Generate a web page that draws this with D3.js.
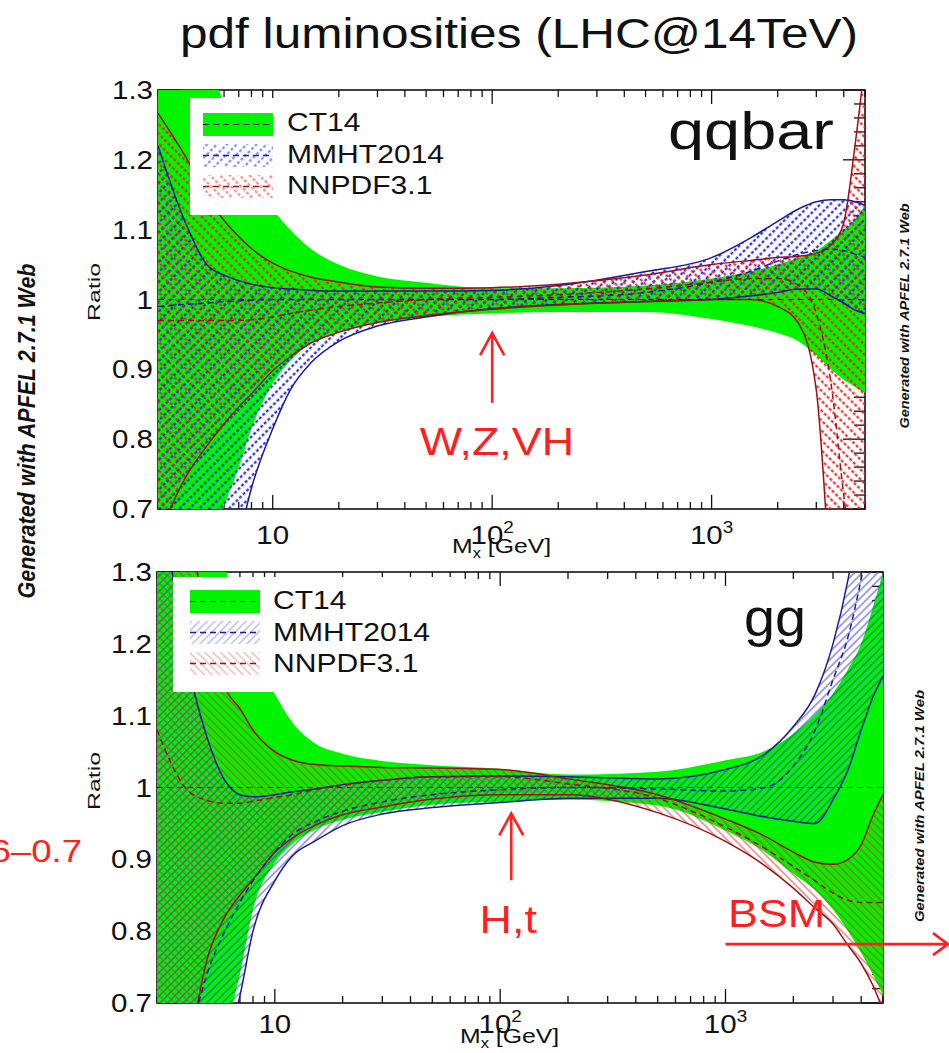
<!DOCTYPE html>
<html>
<head>
<meta charset="utf-8">
<script src="https://cdn.jsdelivr.net/npm/d3@7"></script>
<style>
  body { margin: 0; background: #fff; }
  svg { display: block; }
  text { font-family: "Liberation Sans", Arial, Helvetica, sans-serif; }
</style>
</head>
<body>
<div id="chart"></div>
<script>
// ---------------------------------- DATA ----------------------------------
// invariant mass grid M_X [GeV]
const mass = [3, 4, 5, 6, 7, 8, 10, 12, 15, 20, 30, 50, 100, 200, 500, 1000, 1500, 2000, 2500, 3000, 3500, 4000, 4500, 5000];

// qqbar luminosity ratios (to CT14 central)
const qq_ct14_c  = [1, 1, 1, 1, 1, 1, 1, 1, 1, 1, 1, 1, 1, 1, 1, 1, 1, 1, 1, 1, 1, 1, 1, 1];
const qq_ct14_up = [1.60, 1.45, 1.35, 1.28, 1.22, 1.18, 1.13, 1.10, 1.072, 1.05, 1.033, 1.024, 1.016, 1.016, 1.02, 1.03, 1.04, 1.05, 1.06, 1.07, 1.085, 1.10, 1.115, 1.135];
const qq_ct14_lo = [0.45, 0.57, 0.65, 0.705, 0.76, 0.815, 0.88, 0.912, 0.937, 0.954, 0.966, 0.975, 0.98, 0.982, 0.982, 0.972, 0.962, 0.952, 0.94, 0.92, 0.90, 0.885, 0.875, 0.866];
const qq_mmht_c  = [0.99, 0.993, 0.995, 0.997, 0.998, 0.999, 1.0, 1.0, 1.0, 1.0, 1.0, 1.0, 1.0, 1.003, 1.01, 1.025, 1.04, 1.055, 1.065, 1.07, 1.072, 1.07, 1.065, 1.06];
const qq_mmht_up = [1.22, 1.11, 1.05, 1.035, 1.027, 1.022, 1.017, 1.015, 1.013, 1.012, 1.012, 1.012, 1.013, 1.02, 1.04, 1.06, 1.088, 1.112, 1.13, 1.14, 1.143, 1.143, 1.14, 1.135];
const qq_mmht_lo = [0.20, 0.35, 0.46, 0.56, 0.655, 0.73, 0.815, 0.87, 0.91, 0.94, 0.962, 0.975, 0.987, 0.993, 0.997, 1.0, 1.005, 1.01, 1.015, 1.015, 1.005, 0.995, 0.985, 0.98];
const qq_nnpdf_c  = [0.97, 0.97, 0.97, 0.97, 0.97, 0.971, 0.975, 0.98, 0.985, 0.99, 0.995, 1.0, 1.003, 1.007, 1.015, 1.025, 1.03, 1.03, 1.02, 0.98, 0.88, 0.72, 0.60, 0.50];
const qq_nnpdf_up = [1.267, 1.205, 1.15, 1.113, 1.09, 1.073, 1.052, 1.041, 1.032, 1.025, 1.018, 1.016, 1.017, 1.022, 1.035, 1.05, 1.056, 1.06, 1.062, 1.066, 1.078, 1.11, 1.22, 1.34];
const qq_nnpdf_lo = [0.66, 0.745, 0.79, 0.822, 0.846, 0.865, 0.898, 0.918, 0.938, 0.953, 0.967, 0.977, 0.986, 0.992, 0.997, 1.0, 1.0, 0.99, 0.965, 0.87, 0.58, 0.30, 0.15, 0.05];

// gg luminosity ratios (to CT14 central)
const gg_ct14_c  = [1, 1, 1, 1, 1, 1, 1, 1, 1, 1, 1, 1, 1, 1, 1, 1, 1, 1, 1, 1, 1, 1, 1, 1];
const gg_ct14_up = [1.80, 1.60, 1.43, 1.31, 1.24, 1.19, 1.13, 1.09, 1.062, 1.047, 1.037, 1.031, 1.026, 1.018, 1.022, 1.038, 1.051, 1.075, 1.102, 1.131, 1.165, 1.20, 1.25, 1.30];
const gg_ct14_lo = [0.30, 0.45, 0.57, 0.66, 0.74, 0.83, 0.895, 0.922, 0.941, 0.955, 0.966, 0.976, 0.98, 0.983, 0.975, 0.94, 0.91, 0.88, 0.857, 0.83, 0.80, 0.77, 0.74, 0.71];
const gg_mmht_c  = [0.40, 0.62, 0.74, 0.80, 0.84, 0.87, 0.91, 0.935, 0.952, 0.967, 0.98, 0.99, 0.997, 1.0, 0.998, 0.995, 1.0, 1.03, 1.08, 1.15, 1.21, 1.29, 1.37, 1.45];
const gg_mmht_up = [1.45, 1.19, 1.07, 1.01, 0.99, 0.987, 0.99, 0.994, 0.998, 1.004, 1.01, 1.015, 1.016, 1.015, 1.012, 1.025, 1.047, 1.085, 1.13, 1.20, 1.29, 1.40, 1.50, 1.60];
const gg_mmht_lo = [0.20, 0.38, 0.52, 0.63, 0.71, 0.80, 0.87, 0.905, 0.925, 0.947, 0.963, 0.972, 0.979, 0.985, 0.985, 0.97, 0.959, 0.953, 0.95, 0.983, 1.025, 1.08, 1.125, 1.155];
const gg_nnpdf_c  = [1.08, 1.0, 0.982, 0.978, 0.978, 0.981, 0.986, 0.99, 0.997, 1.003, 1.01, 1.015, 1.015, 1.005, 0.985, 0.945, 0.915, 0.89, 0.87, 0.853, 0.843, 0.84, 0.84, 0.84];
const gg_nnpdf_up = [1.60, 1.38, 1.24, 1.14, 1.11, 1.08, 1.05, 1.038, 1.032, 1.03, 1.028, 1.027, 1.025, 1.012, 0.99, 0.956, 0.932, 0.91, 0.896, 0.893, 0.90, 0.92, 0.96, 0.99];
const gg_nnpdf_lo = [0.35, 0.60, 0.76, 0.82, 0.85, 0.872, 0.91, 0.93, 0.947, 0.962, 0.973, 0.984, 0.99, 0.99, 0.965, 0.925, 0.891, 0.86, 0.832, 0.81, 0.78, 0.755, 0.725, 0.69];

// axes
const xDomain = [3, 5000];
const yDomain = [0.7, 1.3];
const yTickValues = [0.7, 0.8, 0.9, 1, 1.1, 1.2, 1.3];
const yTickLabels = ["0.7", "0.8", "0.9", "1", "1.1", "1.2", "1.3"];
const xTickValues = [10, 100, 1000];
const xTickBase = ["10", "10", "10"];
const xTickExp = ["", "2", "3"];
const pdfNames = ["CT14", "MMHT2014", "NNPDF3.1"];

// ---------------------------------- SETUP ----------------------------------
const W = 949, H = 1053;
const SX = 1.18;   // the picture is stretched horizontally
const RED = "#ff1f1f";
const GREEN = "#00f400";

const svg = d3.select("#chart").append("svg")
    .attr("width", W).attr("height", H);
const defs = svg.append("defs");

function hatch(id, angle, size, color, width, dashed) {
    let h = dashed ? 5 : size;
    let p = defs.append("pattern")
        .attr("id", id)
        .attr("patternUnits", "userSpaceOnUse")
        .attr("width", size).attr("height", h)
        .attr("patternTransform", "rotate(" + angle + ")");
    p.append("line")
        .attr("x1", size / 2).attr("x2", size / 2)
        .attr("y1", 0).attr("y2", h)
        .attr("stroke", color)
        .attr("stroke-width", width)
        .attr("stroke-dasharray", dashed ? "3 2" : null);
}
hatch("mmht_qq", 45, 7, "#1414ff", 2, true);
hatch("nnpdf_qq", -45, 7, "#ff1414", 2, true);
hatch("mmht_gg", 45, 5.5, "#3434d0", 0.9, false);
hatch("nnpdf_gg", -45, 5.5, "#d03434", 0.9, false);

// stretched text helper
function label(g, x, y, str, size, anchor, color, weight) {
    return g.append("text")
        .attr("transform", "translate(" + x + "," + y + ") scale(" + SX + ",1)")
        .attr("font-size", size)
        .attr("text-anchor", anchor || "start")
        .attr("fill", color || "#111")
        .attr("font-weight", weight || null)
        .text(str);
}

// title
svg.append("text")
    .attr("x", 519).attr("y", 48)
    .attr("font-size", 43)
    .attr("text-anchor", "middle")
    .attr("textLength", 678)
    .attr("lengthAdjust", "spacingAndGlyphs")
    .attr("fill", "#111")
    .text("pdf luminosities (LHC@14TeV)");

// left vertical credit
svg.append("text")
    .attr("transform", "translate(35,431) rotate(-90)")
    .attr("font-size", 23)
    .attr("font-weight", "bold")
    .attr("font-style", "italic")
    .attr("text-anchor", "middle")
    .attr("textLength", 335)
    .attr("lengthAdjust", "spacingAndGlyphs")
    .attr("fill", "#111")
    .text("Generated with APFEL 2.7.1 Web");

// ---------------------------------- PANELS ----------------------------------
const panels = [
    { key: "qq", name: "qqbar", left: 158, right: 865, top: 90, bottom: 509,
      ct14: [qq_ct14_lo, qq_ct14_c, qq_ct14_up],
      mmht: [qq_mmht_lo, qq_mmht_c, qq_mmht_up],
      nnpdf: [qq_nnpdf_lo, qq_nnpdf_c, qq_nnpdf_up],
      legend: { x: 190, y: 98, w: 290, h: 117, sx: 203, row0: 113, text: 287, base0: 131 },
      nameX: 668, nameY: 149, nameLen: 166,
      tickLabelY: 544, axisLabelX: 452, axisLabelY: 553,
      ratioY: 292, creditX: 909, creditY: 316, creditLen: 225 },
    { key: "gg", name: "gg", left: 157, right: 883, top: 572, bottom: 1003,
      ct14: [gg_ct14_lo, gg_ct14_c, gg_ct14_up],
      mmht: [gg_mmht_lo, gg_mmht_c, gg_mmht_up],
      nnpdf: [gg_nnpdf_lo, gg_nnpdf_c, gg_nnpdf_up],
      legend: { x: 173, y: 577, w: 290, h: 115, sx: 190, row0: 590, text: 273, base0: 609 },
      nameX: 744, nameY: 636, nameLen: 62,
      tickLabelY: 1033, axisLabelX: 460, axisLabelY: 1043,
      ratioY: 781, creditX: 924, creditY: 806, creditLen: 232 }
];

panels.forEach(drawPanel);

function drawPanel(p) {
    let x = d3.scaleLog().domain(xDomain).range([p.left, p.right]);
    let y = d3.scaleLinear().domain(yDomain).range([p.bottom, p.top]);
    let g = svg.append("g");

    defs.append("clipPath").attr("id", "clip_" + p.key)
      .append("rect")
        .attr("x", p.left).attr("y", p.top)
        .attr("width", p.right - p.left).attr("height", p.bottom - p.top);

    // frame
    g.append("rect")
        .attr("x", p.left).attr("y", p.top)
        .attr("width", p.right - p.left).attr("height", p.bottom - p.top)
        .attr("fill", "none").attr("stroke", "#111").attr("stroke-width", 1.6);

    // ticks (drawn below the bands, as in the original)
    let ticks = g.append("g").attr("stroke", "#111").attr("stroke-width", 1.3);
    x.ticks().forEach(function(t) {
        let lg = Math.log10(t);
        let major = Math.abs(lg - Math.round(lg)) < 1e-6;
        let len = major ? 14 : 7;
        ticks.append("line").attr("x1", x(t)).attr("x2", x(t))
            .attr("y1", p.bottom).attr("y2", p.bottom - len);
        ticks.append("line").attr("x1", x(t)).attr("x2", x(t))
            .attr("y1", p.top).attr("y2", p.top + len);
    });
    y.ticks(30).forEach(function(t) {
        let major = Math.abs(t * 10 - Math.round(t * 10)) < 1e-6;
        let len = major ? 22 : 11;
        ticks.append("line").attr("x1", p.left).attr("x2", p.left + len)
            .attr("y1", y(t)).attr("y2", y(t));
        ticks.append("line").attr("x1", p.right).attr("x2", p.right - len)
            .attr("y1", y(t)).attr("y2", y(t));
    });

    // bands
    let band = function(lo, up) {
        return d3.area()
            .x((d, i) => x(mass[i]))
            .y0((d, i) => y(lo[i]))
            .y1((d, i) => y(up[i]))
            .curve(d3.curveMonotoneX)(mass);
    };
    let curve = function(arr) {
        return d3.line()
            .x((d, i) => x(mass[i]))
            .y((d, i) => y(arr[i]))
            .curve(d3.curveMonotoneX)(mass);
    };

    let plot = g.append("g").attr("clip-path", "url(#clip_" + p.key + ")");

    plot.append("path").attr("d", band(p.ct14[0], p.ct14[2]))
        .attr("fill", GREEN);
    plot.append("path").attr("d", band(p.mmht[0], p.mmht[2]))
        .attr("fill", "url(#mmht_" + p.key + ")");
    plot.append("path").attr("d", band(p.nnpdf[0], p.nnpdf[2]))
        .attr("fill", "url(#nnpdf_" + p.key + ")");

    // band edges
    [p.mmht[0], p.mmht[2]].forEach(function(arr) {
        plot.append("path").attr("d", curve(arr))
            .attr("fill", "none").attr("stroke", "#1a1a9a").attr("stroke-width", 1.5);
    });
    [p.nnpdf[0], p.nnpdf[2]].forEach(function(arr) {
        plot.append("path").attr("d", curve(arr))
            .attr("fill", "none").attr("stroke", "#a01010").attr("stroke-width", 1.5);
    });

    // central values
    plot.append("path").attr("d", curve(p.ct14[1]))
        .attr("fill", "none").attr("stroke", "#222").attr("stroke-width", 1)
        .attr("stroke-dasharray", "6 4");
    plot.append("path").attr("d", curve(p.mmht[1]))
        .attr("fill", "none").attr("stroke", "#1a1aaa").attr("stroke-width", 1.5)
        .attr("stroke-dasharray", "6 4");
    plot.append("path").attr("d", curve(p.nnpdf[1]))
        .attr("fill", "none").attr("stroke", "#a01010").attr("stroke-width", 1.5)
        .attr("stroke-dasharray", "6 4");

    // legend
    let L = p.legend;
    let leg = g.append("g");
    leg.append("rect").attr("x", L.x).attr("y", L.y)
        .attr("width", L.w).attr("height", L.h).attr("fill", "#fff");
    let fills = [GREEN, "url(#mmht_" + p.key + ")", "url(#nnpdf_" + p.key + ")"];
    let dashCol = ["#222", "#1a1aaa", "#a01010"];
    pdfNames.forEach(function(nm, i) {
        let ry = L.row0 + i * 31;
        leg.append("rect").attr("x", L.sx).attr("y", ry)
            .attr("width", 70).attr("height", 23).attr("fill", fills[i])
            .attr("opacity", i ? 0.55 : 1);
        leg.append("line").attr("x1", L.sx).attr("x2", L.sx + 70)
            .attr("y1", ry + 11.5).attr("y2", ry + 11.5)
            .attr("stroke", dashCol[i]).attr("stroke-width", i ? 1.6 : 1)
            .attr("stroke-dasharray", "6 4");
        label(leg, L.text, L.base0 + i * 31.5, nm, 25.5);
    });

    // panel name
    g.append("text")
        .attr("x", p.nameX).attr("y", p.nameY)
        .attr("font-size", 51)
        .attr("textLength", p.nameLen)
        .attr("lengthAdjust", "spacingAndGlyphs")
        .attr("fill", "#111")
        .text(p.name);

    // y tick labels
    yTickValues.forEach(function(v, i) {
        label(g, p.left - 5, y(v) + 9, yTickLabels[i], 25, "end");
    });

    // x tick labels
    xTickValues.forEach(function(v, i) {
        let t = label(g, x(v), p.tickLabelY, xTickBase[i], 25, "middle");
        if (xTickExp[i]) {
            t.append("tspan").attr("dy", -11).attr("font-size", 16).text(xTickExp[i]);
        }
    });

    // x axis title
    let xt = label(g, p.axisLabelX, p.axisLabelY, "M", 21);
    xt.append("tspan").attr("dy", 5).attr("font-size", 14).text("x");
    xt.append("tspan").attr("dy", -5).text(" [GeV]");

    // y axis title
    g.append("text")
        .attr("transform", "translate(100," + p.ratioY + ") rotate(-90)")
        .attr("font-size", 17)
        .attr("text-anchor", "middle")
        .attr("textLength", 58)
        .attr("lengthAdjust", "spacingAndGlyphs")
        .attr("fill", "#111")
        .text("Ratio");

    // right credit
    g.append("text")
        .attr("transform", "translate(" + p.creditX + "," + p.creditY + ") rotate(-90)")
        .attr("font-size", 13)
        .attr("font-weight", "bold")
        .attr("font-style", "italic")
        .attr("text-anchor", "middle")
        .attr("textLength", p.creditLen)
        .attr("lengthAdjust", "spacingAndGlyphs")
        .attr("fill", "#111")
        .text("Generated with APFEL 2.7.1 Web");

    p.x = x; p.y = y; p.g = g;
}

// ---------------------------------- ANNOTATIONS ----------------------------------
function arrowUp(g, ax, yTip, yTail) {
    g.append("path")
        .attr("d", "M" + ax + "," + yTail + "V" + yTip +
                   "M" + (ax - 12) + "," + (yTip + 22) + "L" + ax + "," + yTip + "L" + (ax + 12) + "," + (yTip + 22))
        .attr("fill", "none").attr("stroke", RED).attr("stroke-width", 2.6);
}

let qp = panels[0], gp = panels[1];
let ann = svg.append("g");

// W,Z,VH
arrowUp(ann, qp.x(100), qp.y(0.952), qp.y(0.852));
label(ann, qp.x(105), qp.y(0.777), "W,Z,VH", 38, "middle", RED);

// H,t
arrowUp(ann, gp.x(112), gp.y(0.964), gp.y(0.871));
label(ann, gp.x(112) - 3, gp.y(0.797), "H,t", 38, "middle", RED);

// BSM
label(ann, gp.x(1026), gp.y(0.806), "BSM", 38, "start", RED);
let by = gp.y(0.782);
ann.append("path")
    .attr("d", "M" + gp.x(1000) + "," + by + "H948" +
               "M933," + (by - 11) + "L948," + by + "L933," + (by + 11))
    .attr("fill", "none").attr("stroke", RED).attr("stroke-width", 2.6);

// partly cut range label on the left
label(ann, 82, 862, "0.6–0.7", 31, "end", RED);
</script>
</body>
</html>
